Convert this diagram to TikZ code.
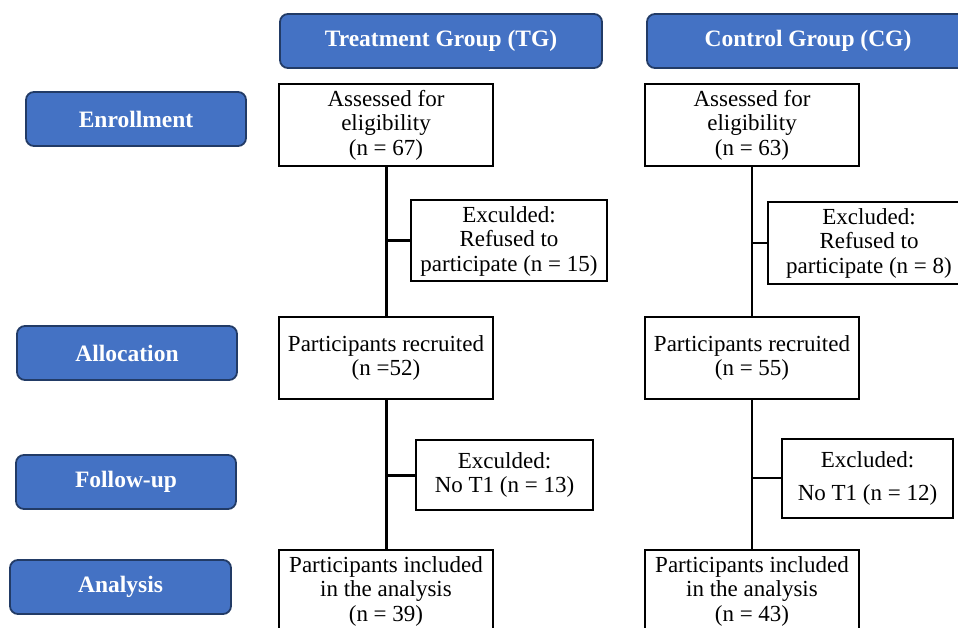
\documentclass[tikz,border=0pt]{standalone}
\usepackage{fontspec}
\setmainfont{Liberation Serif}
\usepackage{tikz}
\definecolor{StageBlue}{HTML}{4472C4}
\definecolor{StageEdge}{HTML}{223B66}

\begin{document}
\begin{tikzpicture}[x=1pt, y=-1pt,
    stage/.style={draw=StageEdge, line width=1.8pt, fill=StageBlue, rounded corners=8pt, text=white, font=\fontsize{23.5}{25}\selectfont\bfseries, inner sep=0pt, minimum width=220pt, minimum height=54pt},
    flowbox/.style={draw=black, line width=2pt, fill=white, align=center, inner sep=0pt, font=\fontsize{23}{24.5}\selectfont, minimum width=214pt, minimum height=82pt},
    link/.style={line width=3pt}]

    %Frame
    \useasboundingbox (0,0) rectangle (958,628);
    \clip (0,0) rectangle (958,628);

    %Stages
    \node[stage] (enroll) at (136,119) {Enrollment};
    \node[stage] (alloc) at (127,353) {Allocation};
    \node[stage] (follow) at (126,482) {Follow-up};
    \node[stage, minimum width=221pt] (analysis) at (120.5,587) {Analysis};

    %Groups
    \node[stage, minimum width=322pt] (tg) at (441,41) {Treatment Group (TG)};
    \node[stage, minimum width=322pt] (cg) at (808,41) {Control Group (CG)};

    %Treatment group
    \node[flowbox] (tgAssess) at (386,125) {Assessed for\\eligibility\\(n = 67)};
    \node[flowbox, minimum width=196pt, minimum height=81pt] (tgRefused) at (509,241) {Exculded:\\Refused to\\participate (n = 15)};
    \node[flowbox] (tgRecruit) at (386,358) {Participants recruited\\(n =52)};
    \node[flowbox, minimum width=177pt, minimum height=70pt] (tgNoT1) at (504.5,475) {Exculded:\\No T1 (n = 13)};
    \node[flowbox] (tgAnalysis) at (386,591) {Participants included\\in the analysis\\(n = 39)};

    \draw[link] (tgAssess) -- (tgRecruit); %Down to recruited
    \draw[link] (tgRefused.west) -- (tgRefused.west -| tgAssess.south); %Side branch
    \draw[link] (tgRecruit) -- (tgAnalysis); %Down to analysis
    \draw[link] (tgNoT1.west) -- (tgNoT1.west -| tgRecruit.south); %Side branch

    %Control group
    \node[flowbox] (cgAssess) at (752,125) {Assessed for\\eligibility\\(n = 63)};
    \node[flowbox, minimum width=202pt] (cgRefused) at (869,243) {Excluded:\\Refused to\\participate (n = 8)};
    \node[flowbox] (cgRecruit) at (752,358) {Participants recruited\\(n = 55)};
    \node[flowbox, minimum width=171pt, minimum height=79pt] (cgNoT1) at (867.5,478) {Excluded:\\[8.5pt]No T1 (n = 12)};
    \node[flowbox] (cgAnalysis) at (752,591) {Participants included\\in the analysis\\(n = 43)};

    \draw[link, line width=2.2pt] (cgAssess) -- (cgRecruit); %Down to recruited
    \draw[link, line width=2.2pt] (cgRefused.west) -- (cgRefused.west -| cgAssess.south); %Side branch
    \draw[link, line width=2.2pt] (cgRecruit) -- (cgAnalysis); %Down to analysis
    \draw[link, line width=2.2pt] (cgNoT1.west) -- (cgNoT1.west -| cgRecruit.south); %Side branch

\end{tikzpicture}
\end{document}
